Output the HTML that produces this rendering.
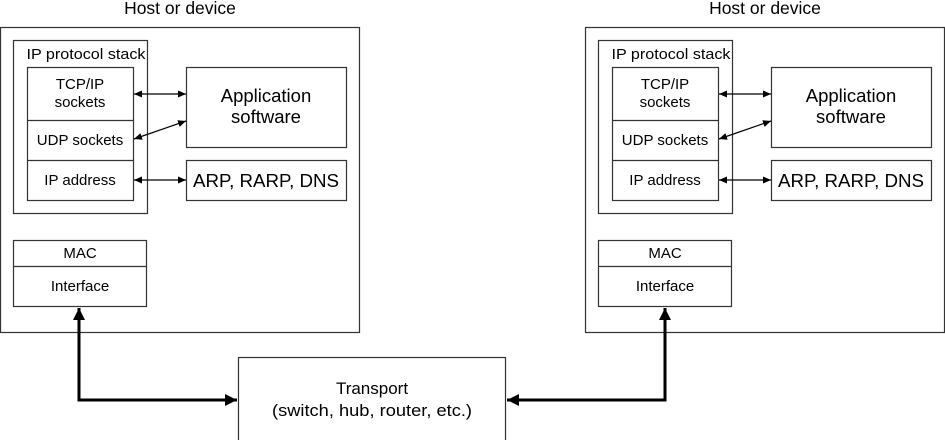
<!DOCTYPE html>
<html><head><meta charset="utf-8"><style>
html,body{margin:0;padding:0;background:#fff;}
svg{display:block;}
text{font-family:"Liberation Sans",Arial,sans-serif;fill:#000;}
</style></head><body>
<svg width="945" height="440" viewBox="0 0 945 440" xmlns="http://www.w3.org/2000/svg">
<defs>
<marker id="a" markerWidth="10" markerHeight="10" refX="8" refY="4.5" orient="auto-start-reverse" markerUnits="userSpaceOnUse">
<path d="M0,1 L8,4.5 L0,8 z" fill="#000"/></marker>
<marker id="b" markerWidth="14" markerHeight="14" refX="12" refY="6" orient="auto-start-reverse" markerUnits="userSpaceOnUse">
<path d="M0,0 L12,6 L0,12 z" fill="#000"/></marker>
<g id="host">
<text x="180" y="14" font-size="17.5" text-anchor="middle">Host or device</text>
<rect x="0.5" y="27.5" width="359" height="305" fill="none" stroke="#333" stroke-width="1.2"/>
<rect x="13.5" y="40.5" width="134" height="173" fill="none" stroke="#333" stroke-width="1.2"/>
<text x="86" y="59" font-size="15" text-anchor="middle" textLength="119" lengthAdjust="spacingAndGlyphs">IP protocol stack</text>
<rect x="27.5" y="67.5" width="106" height="133" fill="none" stroke="#333" stroke-width="1.2"/>
<line x1="27.5" y1="120.5" x2="133.5" y2="120.5" stroke="#333" stroke-width="1.2"/>
<line x1="27.5" y1="160.5" x2="133.5" y2="160.5" stroke="#333" stroke-width="1.2"/>
<text x="80" y="89" font-size="15" text-anchor="middle">TCP/IP</text>
<text x="80" y="107" font-size="15" text-anchor="middle">sockets</text>
<text x="80" y="145" font-size="15" text-anchor="middle">UDP sockets</text>
<text x="80" y="185" font-size="15" text-anchor="middle">IP address</text>
<rect x="186.5" y="67.5" width="160" height="80" fill="none" stroke="#333" stroke-width="1.2"/>
<text x="266" y="102" font-size="18.5" text-anchor="middle">Application</text>
<text x="266" y="123" font-size="18.5" text-anchor="middle">software</text>
<rect x="186.5" y="160.5" width="160" height="40" fill="none" stroke="#333" stroke-width="1.2"/>
<text x="266" y="187" font-size="18.5" text-anchor="middle" textLength="146" lengthAdjust="spacingAndGlyphs">ARP, RARP, DNS</text>
<line x1="134" y1="94" x2="186" y2="94" stroke="#000" stroke-width="1.2" marker-start="url(#a)" marker-end="url(#a)"/>
<line x1="134" y1="139" x2="186" y2="121" stroke="#000" stroke-width="1.2" marker-start="url(#a)" marker-end="url(#a)"/>
<line x1="134" y1="180" x2="186" y2="180" stroke="#000" stroke-width="1.2" marker-start="url(#a)" marker-end="url(#a)"/>
<rect x="13.5" y="240.5" width="133" height="66" fill="none" stroke="#333" stroke-width="1.2"/>
<line x1="13.5" y1="266.5" x2="146.5" y2="266.5" stroke="#333" stroke-width="1.2"/>
<text x="80" y="258" font-size="15" text-anchor="middle">MAC</text>
<text x="80" y="291" font-size="15" text-anchor="middle">Interface</text>
</g>
</defs>
<use href="#host"/>
<use href="#host" x="585"/>
<rect x="238.5" y="357.5" width="267" height="90" fill="none" stroke="#333" stroke-width="1.2"/>
<text x="372" y="394" font-size="17" text-anchor="middle">Transport</text>
<text x="372" y="416" font-size="17" text-anchor="middle" textLength="200" lengthAdjust="spacingAndGlyphs">(switch, hub, router, etc.)</text>
<polyline points="79,308 79,400 237,400" fill="none" stroke="#000" stroke-width="3" marker-start="url(#b)" marker-end="url(#b)"/>
<polyline points="665,308 665,400 507,400" fill="none" stroke="#000" stroke-width="3" marker-start="url(#b)" marker-end="url(#b)"/>
</svg>
</body></html>
